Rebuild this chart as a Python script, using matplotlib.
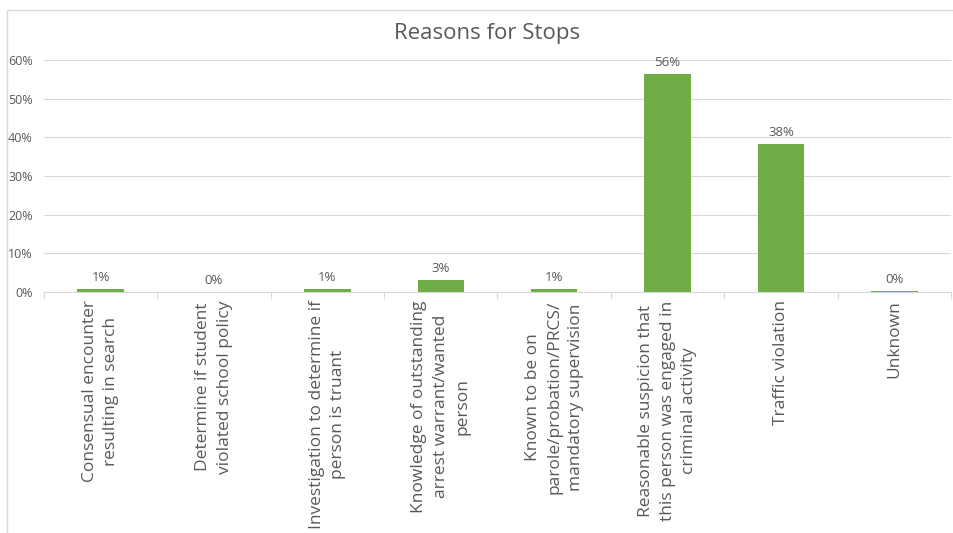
import matplotlib.pyplot as plt
import matplotlib.ticker as ticker
from matplotlib.patches import Rectangle

plt.rcParams['font.family'] = ['Open Sans', 'DejaVu Sans']

categories = [
    "Consensual encounter\nresulting in search",
    "Determine if student\nviolated school policy",
    "Investigation to determine if\nperson is truant",
    "Knowledge of outstanding\narrest warrant/wanted\nperson",
    "Known to be on\nparole/probation/PRCS/\nmandatory supervision",
    "Reasonable suspicion that\nthis person was engaged in\ncriminal activity",
    "Traffic violation",
    "Unknown",
]
percent = [0.8, 0.0, 0.8, 3.1, 0.9, 56.4, 38.4, 0.3]
yticks = [0, 10, 20, 30, 40, 50, 60]

green = '#70AD47'
grey_text = '#595959'
grid_col = '#D9D9D9'

fig = plt.figure(figsize=(9.54, 5.33), dpi=100)
ax = fig.add_axes([44 / 954, 1 - 292 / 533, 907 / 954, 232 / 533])

# outer chart border
fig.patches.append(Rectangle((7 / 954, -0.01), 1.0, 1 - 10 / 533 + 0.01,
                             transform=fig.transFigure, fill=False,
                             edgecolor='#D9D9D9', linewidth=1))

x = list(range(len(categories)))
bars = ax.bar(x, percent, width=0.41, color=green, zorder=3)

for xi, v in zip(x, percent):
    ax.text(xi, v + 1.2, '%.0f%%' % v, ha='center', va='bottom',
            fontsize=9.5, color=grey_text)

ax.set_xlim(-0.5, len(categories) - 0.5)
ax.set_ylim(0, 60)
ax.set_yticks(yticks)
ax.yaxis.set_major_formatter(ticker.FuncFormatter(lambda v, p: '%d%%' % v))
ax.grid(axis='y', color=grid_col, linewidth=0.8, zorder=0)
ax.tick_params(axis='y', length=0, labelsize=9, labelcolor=grey_text, pad=8)

ax.set_xticks([i + 0.5 for i in range(-1, len(categories))])
ax.set_xticklabels([])
ax.tick_params(axis='x', which='major', length=5, color=grid_col, direction='out')
ax.set_xticks(x, minor=True)
ax.set_xticklabels(categories, minor=True, rotation=90, ha='center', va='top',
                   multialignment='center', fontsize=12.5, color=grey_text,
                   linespacing=1.45)
ax.tick_params(axis='x', which='minor', length=0, pad=6)

for s in ['left', 'right', 'top']:
    ax.spines[s].set_visible(False)
ax.spines['bottom'].set_color(grid_col)

fig.text(487 / 954, 1 - 33 / 533, 'Reasons for Stops', ha='center', va='center',
         fontsize=16, color=grey_text)

fig.savefig('out.png', dpi=100)
